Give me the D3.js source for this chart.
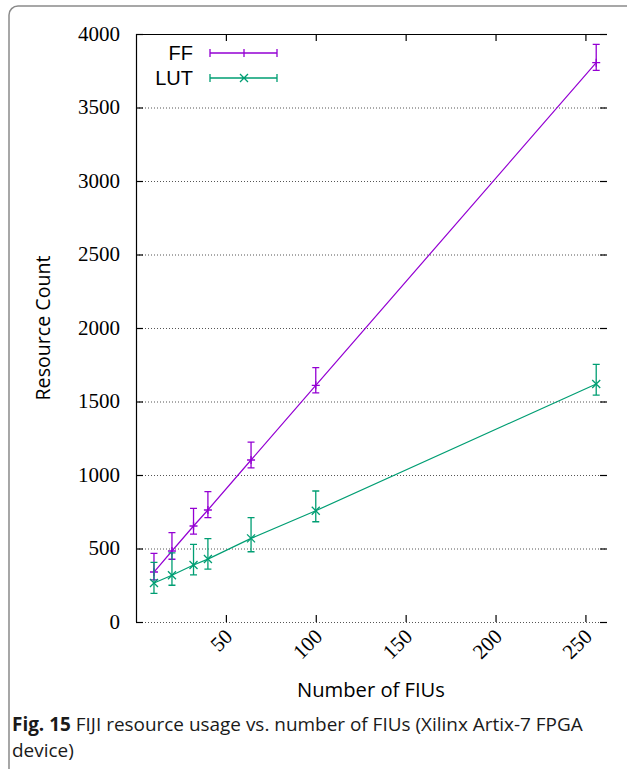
<html>
<head>
<script src="https://d3js.org/d3.v7.min.js"></script>
<style>
  body { margin: 0; background: #fff; }
  svg { display: block; }
  .tick-label { font-family: "Liberation Serif", serif; font-size: 21px; }
</style>
</head>
<body>
<svg id="viz" width="627" height="769"></svg>
<script>
// number of FIUs
var fius = [10, 20, 32, 40, 64, 100, 256];
// FF usage: mean, low, high
var ffMean = [340, 483, 653, 762, 1102, 1610, 3805];
var ffLow  = [286, 427, 598, 710, 1048, 1558, 3753];
var ffHigh = [467, 608, 773, 887, 1224, 1730, 3930];
// LUT usage: mean, low, high
var lutMean = [265, 318, 388, 428, 569, 757, 1619];
var lutLow  = [195, 250, 320, 360, 478, 682, 1544];
var lutHigh = [406, 470, 528, 567, 710, 891, 1753];
var xTicks = [50, 100, 150, 200, 250];
var yTicks = [0, 500, 1000, 1500, 2000, 2500, 3000, 3500, 4000];

var ffColor = "#9400d3";
var lutColor = "#009e73";

var svg = d3.select("#viz");

// figure frame (rounded, runs off the page)
svg.append("rect")
  .attr("x", 9).attr("y", 6)
  .attr("width", 640).attr("height", 800)
  .attr("rx", 9)
  .style("fill", "none")
  .style("stroke", "#8a8a8a")
  .style("stroke-width", 1.5);

var x = d3.scaleLinear().domain([0, 262]).range([136, 607]);
var y = d3.scaleLinear().domain([0, 4000]).range([622, 34]);

// dotted grid lines
svg.selectAll("grid")
  .data(yTicks.slice(0, -1))
  .enter()
  .append("line")
    .attr("x1", x(0)).attr("x2", x(262))
    .attr("y1", function(d){ return y(d) + 0.5 })
    .attr("y2", function(d){ return y(d) + 0.5 })
    .style("stroke", "#555")
    .style("stroke-width", 1)
    .style("stroke-dasharray", "1,2");

// border: left and top only
svg.append("path")
  .attr("d", "M" + (x(0)+0.5) + "," + y(0) + "V" + (y(4000)+0.5) + "H" + x(262))
  .style("fill", "none")
  .style("stroke", "#000")
  .style("stroke-width", 1.2);

// y ticks (inward, mirrored)
var yTickG = svg.append("g");
yTicks.forEach(function(t){
  yTickG.append("line")
    .attr("x1", x(0)).attr("x2", x(0) + 7)
    .attr("y1", y(t) + 0.5).attr("y2", y(t) + 0.5)
    .style("stroke", "#000").style("stroke-width", 1.2);
  yTickG.append("line")
    .attr("x1", x(262) - 7).attr("x2", x(262))
    .attr("y1", y(t) + 0.5).attr("y2", y(t) + 0.5)
    .style("stroke", "#000").style("stroke-width", 1.2);
});

svg.selectAll("ylabels")
  .data(yTicks)
  .enter()
  .append("text")
    .attr("class", "tick-label")
    .attr("x", 120)
    .attr("y", function(d){ return y(d) })
    .attr("dy", "0.33em")
    .attr("text-anchor", "end")
    .text(function(d){ return d });

// x ticks (inward, mirrored)
xTicks.forEach(function(t){
  svg.append("line")
    .attr("x1", x(t) + 0.5).attr("x2", x(t) + 0.5)
    .attr("y1", y(0)).attr("y2", y(0) - 7)
    .style("stroke", "#000").style("stroke-width", 1.2);
  svg.append("line")
    .attr("x1", x(t) + 0.5).attr("x2", x(t) + 0.5)
    .attr("y1", y(4000)).attr("y2", y(4000) + 7)
    .style("stroke", "#000").style("stroke-width", 1.2);
});

svg.selectAll("xlabels")
  .data(xTicks)
  .enter()
  .append("text")
    .attr("class", "tick-label")
    .attr("transform", function(d){ return "translate(" + (x(d) + 3) + "," + 633 + ") rotate(-45)" })
    .attr("text-anchor", "end")
    .attr("dy", "0.33em")
    .text(function(d){ return d });

// series
function drawSeries(mean, low, high, color, marker) {
  var pts = fius.map(function(f, i){ return [x(f), y(mean[i])] });
  svg.append("path")
    .attr("d", d3.line()(pts))
    .style("fill", "none")
    .style("stroke", color)
    .style("stroke-width", 1.2);

  var g = svg.append("g")
    .style("stroke", color)
    .style("stroke-width", 1.3)
    .style("fill", "none");
  fius.forEach(function(f, i){
    var cx = x(f);
    g.append("path")
      .attr("d", "M" + cx + "," + y(low[i]) + "V" + y(high[i]) +
                 "M" + (cx-3.5) + "," + y(low[i]) + "h7" +
                 "M" + (cx-3.5) + "," + y(high[i]) + "h7");
    g.append("path").attr("d", marker(cx, y(mean[i])));
  });
}

function plus(cx, cy) { return "M" + (cx-4) + "," + cy + "h8M" + cx + "," + (cy-4) + "v8"; }
function cross(cx, cy) { return "M" + (cx-4) + "," + (cy-4) + "l8,8M" + (cx-4) + "," + (cy+4) + "l8,-8"; }

drawSeries(ffMean, ffLow, ffHigh, ffColor, plus);
drawSeries(lutMean, lutLow, lutHigh, lutColor, cross);

// legend
var legendItems = [
  { name: "FF", color: ffColor, marker: plus, y: 53 },
  { name: "LUT", color: lutColor, marker: cross, y: 78 }
];
legendItems.forEach(function(d){
  svg.append("text")
    .attr("x", 193).attr("y", d.y)
    .attr("dy", "0.35em")
    .attr("text-anchor", "end")
    .style("font-family", "'Liberation Sans', sans-serif")
    .style("font-size", "20px")
    .text(d.name);
  svg.append("path")
    .attr("d", "M210," + d.y + "H277M210," + (d.y-4) + "v8M277," + (d.y-4) + "v8" + d.marker(244, d.y))
    .style("fill", "none")
    .style("stroke", d.color)
    .style("stroke-width", 1.3);
});

// axis titles
function fitText(sel, width) {
  var len = sel.node().getComputedTextLength();
  var size = parseFloat(sel.style("font-size"));
  sel.style("font-size", (size * width / len) + "px");
}

var ytitle = svg.append("text")
  .attr("transform", "translate(50,328) rotate(-90)")
  .attr("text-anchor", "middle")
  .style("font-family", "'Open Sans', sans-serif")
  .style("font-size", "20px")
  .text("Resource Count");
fitText(ytitle, 145);

var xtitle = svg.append("text")
  .attr("x", 371).attr("y", 697)
  .attr("text-anchor", "middle")
  .style("font-family", "'Open Sans', sans-serif")
  .style("font-size", "20px")
  .text("Number of FIUs");
fitText(xtitle, 148);

// caption
var cap = svg.append("text")
  .attr("x", 12).attr("y", 731)
  .style("font-family", "'Open Sans', sans-serif")
  .style("font-size", "18px")
  .style("fill", "#1a1a1a");
cap.append("tspan").style("font-weight", "bold").text("Fig. 15");
cap.append("tspan").text(" FIJI resource usage vs. number of FIUs (Xilinx Artix-7 FPGA");
fitText(cap, 571);
svg.append("text")
  .attr("x", 12).attr("y", 757)
  .style("font-family", "'Open Sans', sans-serif")
  .style("font-size", cap.style("font-size"))
  .style("fill", "#1a1a1a")
  .text("device)");
</script>
</body>
</html>
